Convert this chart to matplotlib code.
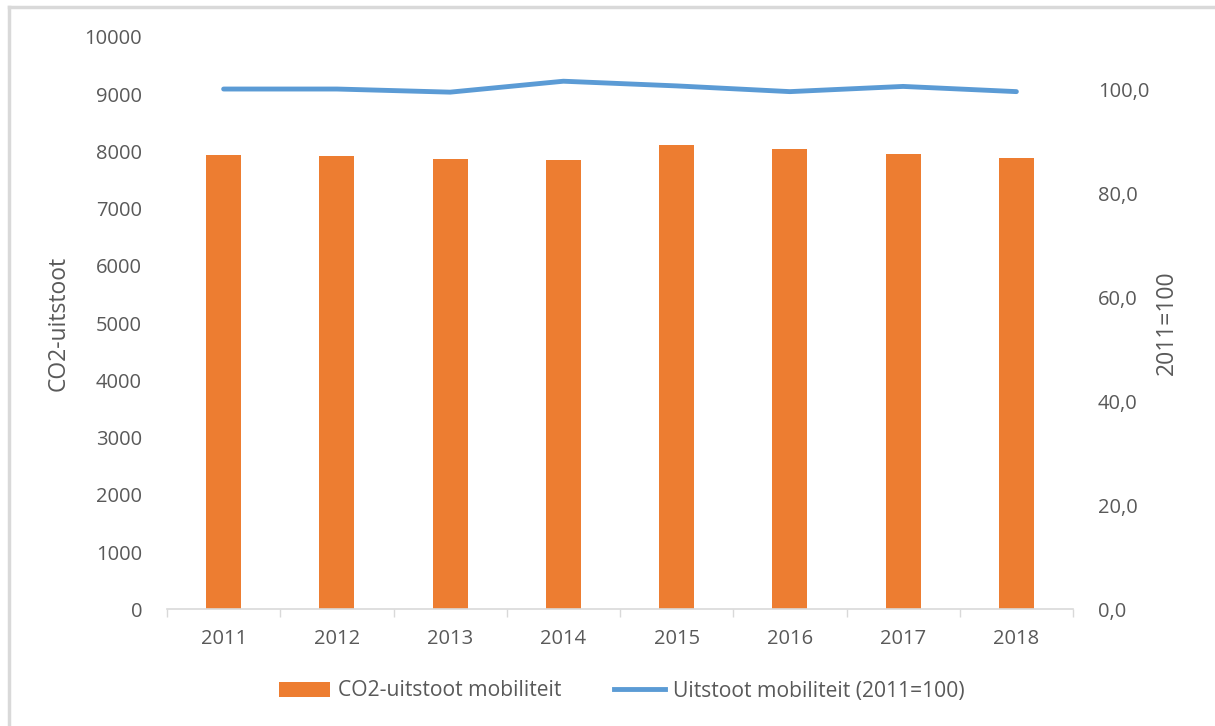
import matplotlib.pyplot as plt
import numpy as np
from matplotlib.lines import Line2D
from matplotlib.patches import Patch

plt.rcParams['font.family'] = ['Open Sans', 'DejaVu Sans']

years = ['2011', '2012', '2013', '2014', '2015', '2016', '2017', '2018']
co2 = [7937, 7925, 7872, 7850, 8117, 8047, 7955, 7890]
index = [100.0, 100.0, 99.4, 101.5, 100.6, 99.5, 100.5, 99.5]

left_ticks = list(range(0, 10001, 1000))
right_ticks = [0, 20, 40, 60, 80, 100]

orange = '#ed7d31'
blue = '#5b9bd5'
grey = '#595959'
axis_grey = '#d9d9d9'

fig = plt.figure(figsize=(12.15, 7.26), dpi=100)
ax = fig.add_axes([167 / 1215, 1 - 609.3 / 726, (1073 - 167) / 1215, (609.3 - 37) / 726])
ax2 = ax.twinx()

x = np.arange(len(years))
ax.bar(x, co2, width=0.31, color=orange, zorder=2)
ax2.plot(x, index, color=blue, lw=3.5, solid_capstyle='round', solid_joinstyle='round', zorder=3)

ax.set_xlim(-0.5, len(years) - 0.5)
ax.set_ylim(0, 10000)
ax2.set_ylim(0, 110)

ax.set_yticks(left_ticks)
ax.set_yticklabels([str(t) for t in left_ticks])
ax2.set_yticks(right_ticks)
ax2.set_yticklabels([f'{t},0' for t in right_ticks])

ax.set_xticks(x)
ax.set_xticklabels(years)
ax.set_xticks(np.arange(-0.5, len(years)), minor=True)
ax.tick_params(axis='x', which='major', length=0, pad=14, labelsize=14.5, labelcolor=grey)
ax.tick_params(axis='x', which='minor', length=6, color=axis_grey, width=1)
ax.tick_params(axis='y', length=0, pad=18, labelsize=14.5, labelcolor=grey)
ax2.tick_params(axis='y', length=0, pad=18, labelsize=14.5, labelcolor=grey)

for a in (ax, ax2):
    for s in ['top', 'left', 'right']:
        a.spines[s].set_visible(False)
ax2.spines['bottom'].set_visible(False)
ax.spines['bottom'].set_color(axis_grey)
ax.spines['bottom'].set_linewidth(1.2)

ax.set_ylabel('CO2-uitstoot', fontsize=16.5, color=grey, labelpad=10)
ax2.set_ylabel('2011=100', fontsize=16.5, color=grey, labelpad=4)

handles = [Patch(facecolor=orange, edgecolor='none'),
           Line2D([0], [0], color=blue, lw=3.5)]
fig.legend(handles, ['CO2-uitstoot mobiliteit', 'Uitstoot mobiliteit (2011=100)'],
           loc='center', bbox_to_anchor=(621.5 / 1215, 1 - 691 / 726), ncol=2, frameon=False,
           fontsize=15.2, labelcolor=grey, handlelength=2.45, handleheight=0.7,
           handletextpad=0.35, columnspacing=2.5)

# light chart-area border (left and top edges)
fig.add_artist(Line2D([9 / 1215, 9 / 1215], [0, 1 - 7 / 726], color=axis_grey, lw=2.5))
fig.add_artist(Line2D([9 / 1215, 1], [1 - 7 / 726, 1 - 7 / 726], color=axis_grey, lw=2.5))

fig.savefig('out.png', dpi=100)
